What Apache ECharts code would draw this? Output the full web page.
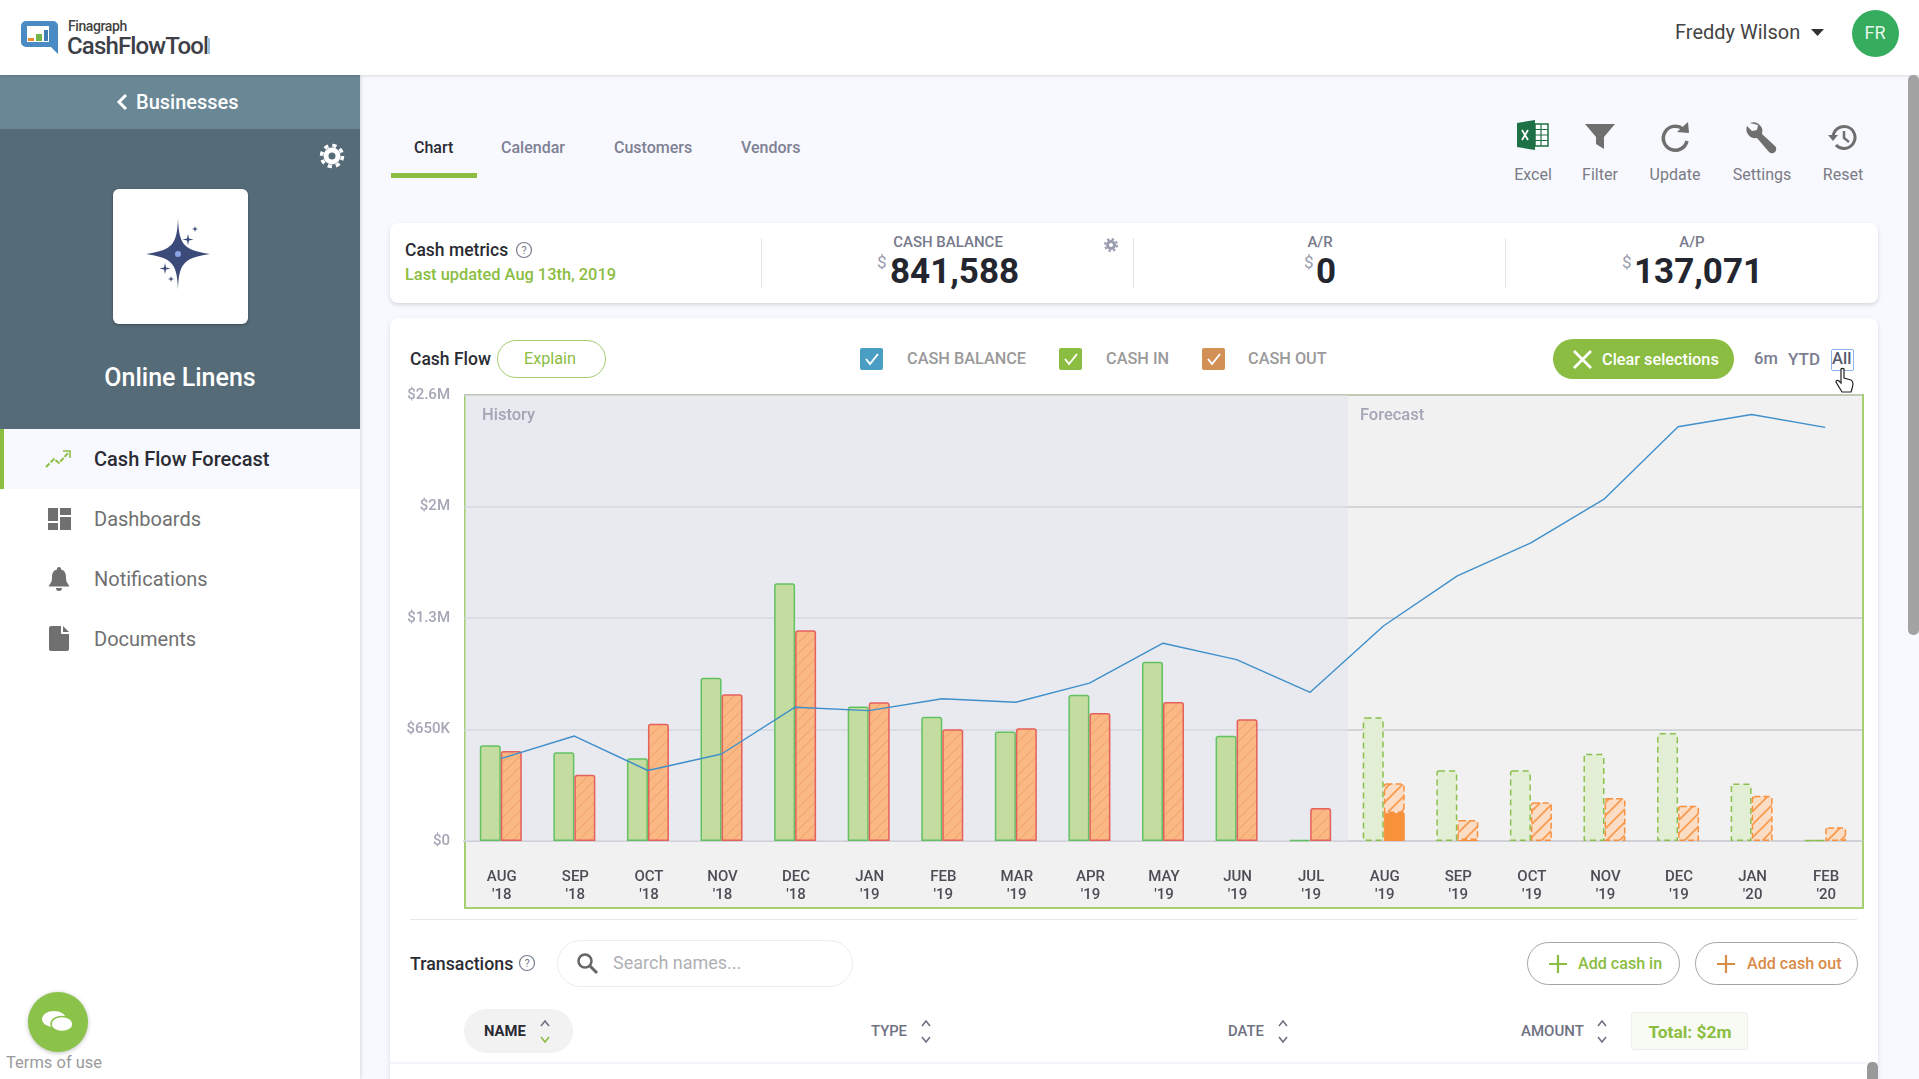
<!DOCTYPE html>
<html>
<head>
<meta charset="utf-8">
<title>Cash Flow Forecast</title>
<script src="https://cdn.jsdelivr.net/npm/echarts@6/dist/echarts.min.js"></script>
<style>
html,body{margin:0;padding:0;width:1919px;height:1079px;overflow:hidden;background:#f7f9fe;font-family:Roboto,sans-serif;}
.a{position:absolute;}
.t{position:absolute;transform:translateY(-50%);white-space:nowrap;line-height:1;}
.c{position:absolute;transform:translate(-50%,-50%);white-space:nowrap;line-height:1;}
.m{font-weight:500;}
.b{font-weight:700;}
svg{position:absolute;overflow:visible;}
.card{position:absolute;background:#fff;border-radius:8px;box-shadow:0 2px 4px rgba(60,70,90,.18);}
.pill{position:absolute;box-sizing:border-box;border-radius:24px;}
</style>
</head>
<body>
<!-- header -->
<div class="a" style="left:0;top:0;width:1919px;height:75px;background:#fff;box-shadow:0 1px 3px rgba(0,0,0,.12);z-index:3"></div>
<div style="position:absolute;z-index:4;left:0;top:0">
  <svg style="left:20px;top:20px" width="40" height="36" viewBox="0 0 40 36">
    <path d="M6 1H33a5 5 0 0 1 5 5V34L31 27H6a5 5 0 0 1-5-5V6a5 5 0 0 1 5-5z" fill="#4a8bc4"/>
    <path d="M7 6H29V22H7z" fill="#fff"/>
    <path d="M8 18h6v3H8z" fill="#e98a2e"/><path d="M16 14h6v7h-6z" fill="#6fb548"/><path d="M24 10h4v11h-4z" fill="#3f7db5"/>
  </svg>
  <div class="t m" style="left:68px;top:26px;font-size:14px;color:#444;letter-spacing:-.4px">Finagraph</div>
  <div class="t m" style="left:67px;top:46px;font-size:24px;color:#3d4047;letter-spacing:-.85px">CashFlowTool</div>
  <div class="a" style="left:207px;top:38px;width:3px;height:16px;background:#9cc2e0"></div>
  <div class="t" style="left:1675px;top:32px;font-size:20px;color:#444">Freddy Wilson</div>
  <svg style="left:1811px;top:29px" width="13" height="7"><path d="M0 0H13L6.5 7z" fill="#333"/></svg>
  <div class="a" style="left:1852px;top:10px;width:47px;height:47px;border-radius:50%;background:#35ac5e"></div>
  <div class="c" style="left:1875px;top:33px;font-size:18px;color:#e8f7ec">FR</div>
</div>

<!-- sidebar -->
<div class="a" style="left:0;top:75px;width:360px;height:1004px;background:#fff;box-shadow:1px 0 3px rgba(70,80,110,.18)"></div>
<div class="a" style="left:0;top:75px;width:360px;height:54px;background:#6a8796"></div>
<div class="a" style="left:0;top:129px;width:360px;height:300px;background:#566b78"></div>
<svg style="left:116px;top:93px" width="12" height="18"><path d="M10 2L3 9l7 7" fill="none" stroke="#fff" stroke-width="3"/></svg>
<div class="t m" style="left:136px;top:102px;font-size:20px;color:#fff">Businesses</div>
<svg style="left:332px;top:156px" width="1" height="1"><circle r="6" fill="none" stroke="#fff" stroke-width="5"/><circle r="10.5" fill="none" stroke="#fff" stroke-width="3.5" stroke-dasharray="4.2 4.05"/></svg>
<div class="a" style="left:113px;top:189px;width:135px;height:135px;background:#fff;border-radius:6px;box-shadow:0 1px 3px rgba(0,0,0,.3)"></div>
<svg style="left:178px;top:254px" width="1" height="1">
  <path d="M0-36C1-11 4-4 32 0C4 4 1 11 0 36C-1 11-4 4-32 0C-4-4-1-11 0-36z" fill="#3b4a78"/>
  <circle r="3" fill="#8ea4e8"/>
  <path d="M10-20l1 4.500 4.500 1-4.500 1-1 4.500-1-4.500-4.500-1 4.500-1z" fill="#3b4a78"/>
  <path d="M-13 9l1 4.500 4.500 1-4.500 1-1 4.500-1-4.500-4.500-1 4.500-1z" fill="#3b4a78"/>
  <path d="M17-28l.7 2.300 2.300.7-2.300.7-.7 2.300-.7-2.300-2.300-.7 2.300-.7z" fill="#3b4a78"/>
  <path d="M-7 22l.7 2.300 2.300.7-2.300.7-.7 2.300-.7-2.300-2.300-.7 2.300-.7z" fill="#3b4a78"/>
</svg>
<div class="c m" style="left:180px;top:377px;font-size:25px;color:#fff">Online Linens</div>
<div class="a" style="left:0;top:429px;width:360px;height:60px;background:#f7f9fe"></div>
<div class="a" style="left:0;top:429px;width:4px;height:60px;background:#8bbd42"></div>
<svg style="left:46px;top:450px" width="26" height="18"><path d="M0 17l8-8 5 4 9-10" fill="none" stroke="#8bbd42" stroke-width="2" stroke-dasharray="5 1.5"/><path d="M17 1h7v7" fill="none" stroke="#8bbd42" stroke-width="1.6"/></svg>
<div class="t m" style="left:94px;top:459px;font-size:20px;color:#2b2b33">Cash Flow Forecast</div>
<svg style="left:48px;top:508px" width="23" height="22"><path d="M0 0h10v13H0zM12 0h11v7H12zM12 9h11v13H12zM0 15h10v7H0z" fill="#707070"/></svg>
<div class="t" style="left:94px;top:519px;font-size:20px;color:#707070">Dashboards</div>
<svg style="left:49px;top:567px" width="20" height="24"><path d="M10 0a2 2 0 0 1 2 2.500c4 1 5 4 5 8 0 4 1 5 3 8v1H0v-1c2-3 3-4 3-8 0-4 1-7 5-8A2 2 0 0 1 10 0zM7 21h6a3 3 0 0 1-6 0z" fill="#707070"/></svg>
<div class="t" style="left:94px;top:579px;font-size:20px;color:#707070">Notifications</div>
<svg style="left:49px;top:626px" width="20" height="25"><path d="M2 0H12V7a1 1 0 0 0 1 1H20V23a2 2 0 0 1-2 2H2a2 2 0 0 1-2-2V2a2 2 0 0 1 2-2zM14 0l6 6h-6z" fill="#707070"/></svg>
<div class="t" style="left:94px;top:639px;font-size:20px;color:#707070">Documents</div>
<div class="a" style="left:28px;top:992px;width:60px;height:60px;border-radius:50%;background:#8bc34a;box-shadow:0 1px 4px rgba(0,0,0,.25)"></div>
<svg style="left:42px;top:1010px" width="32" height="26"><ellipse cx="12" cy="9" rx="12" ry="8" fill="#fff"/><ellipse cx="20" cy="14" rx="11" ry="7.500" fill="#fff" stroke="#8bc34a" stroke-width="1.500"/></svg>
<div class="t" style="left:6px;top:1063px;font-size:16.500px;color:#9a9a9a">Terms of use</div>

<!-- tabs and toolbar -->
<div class="t m" style="left:414px;top:148px;font-size:16px;color:#2b2b33">Chart</div>
<div class="t m" style="left:501px;top:148px;font-size:16px;color:#7f8094">Calendar</div>
<div class="t m" style="left:614px;top:148px;font-size:16px;color:#7f8094">Customers</div>
<div class="t m" style="left:741px;top:148px;font-size:16px;color:#7f8094">Vendors</div>
<div class="a" style="left:391px;top:173px;width:86px;height:5px;background:#8bbd42"></div>
<svg style="left:1517px;top:120px" width="31" height="30"><path d="M0 3L18 0V30L0 27z" fill="#1e7145"/><path d="M18 4H31V26H18z" fill="#fff" stroke="#1e7145" stroke-width="1.500"/><path d="M18 9.500H31M18 15H31M18 20.500H31M24 4V26" stroke="#1e7145" stroke-width="1.200"/><path d="M5 10l6 10M11 10L5 20" stroke="#fff" stroke-width="1.800"/></svg>
<svg style="left:1585px;top:124px" width="30" height="26"><path d="M0 0H30L19 13V25L11 20V13z" fill="#6f6f6f"/></svg>
<svg style="left:1662px;top:124px" width="28" height="28"><path d="M21 5A12 12 0 1 0 25 17" fill="none" stroke="#6f6f6f" stroke-width="3.500"/><path d="M15 8L27 9 26 -2z" fill="#6f6f6f"/></svg>
<svg style="left:1746px;top:122px" width="30" height="30"><path d="M4 1a9 9 0 0 1 12 11L29 24a3.500 3.500 0 0 1-6 6L11 16A9 9 0 0 1 1 4l5 5 5-1 1-5z" fill="#6f6f6f"/></svg>
<svg style="left:1828px;top:124px" width="30" height="28"><path d="M5 13A11 11 0 1 1 8 21" fill="none" stroke="#6f6f6f" stroke-width="3"/><path d="M0 11H10L5 17z" fill="#6f6f6f"/><path d="M16 7V14L21 18" fill="none" stroke="#6f6f6f" stroke-width="2.500"/></svg>
<div class="c" style="left:1533px;top:175px;font-size:16px;color:#7b7b85">Excel</div>
<div class="c" style="left:1600px;top:175px;font-size:16px;color:#7b7b85">Filter</div>
<div class="c" style="left:1675px;top:175px;font-size:16px;color:#7b7b85">Update</div>
<div class="c" style="left:1762px;top:175px;font-size:16px;color:#7b7b85">Settings</div>
<div class="c" style="left:1843px;top:175px;font-size:16px;color:#7b7b85">Reset</div>

<!-- metrics card -->
<div class="card" style="left:390px;top:223px;width:1488px;height:80px"></div>
<div class="t m" style="left:405px;top:251px;font-size:17.500px;color:#2b2b33">Cash metrics</div>
<svg style="left:524px;top:250px" width="1" height="1"><circle r="7.500" fill="none" stroke="#777a8c" stroke-width="1.200"/><text x="0" y="4" text-anchor="middle" font-size="11" fill="#777a8c">?</text></svg>
<div class="t m" style="left:405px;top:275px;font-size:16.400px;color:#8bbd42">Last updated Aug 13th, 2019</div>
<div class="a" style="left:761px;top:238px;width:1px;height:50px;background:#e4e5ea"></div>
<div class="a" style="left:1133px;top:238px;width:1px;height:50px;background:#e4e5ea"></div>
<div class="a" style="left:1505px;top:238px;width:1px;height:50px;background:#e4e5ea"></div>
<div class="c m" style="left:948px;top:242px;font-size:15px;color:#777a8c">CASH BALANCE</div>
<div class="t" style="left:877px;top:262px;font-size:17px;color:#999cae">$</div>
<div class="t b" style="left:890px;top:271px;font-size:35px;color:#23262f">841,588</div>
<svg style="left:1111px;top:245px" width="1" height="1"><circle r="3.500" fill="none" stroke="#9a9cb0" stroke-width="3"/><circle r="6" fill="none" stroke="#9a9cb0" stroke-width="2" stroke-dasharray="2.400 2.300"/></svg>
<div class="c m" style="left:1320px;top:242px;font-size:15px;color:#777a8c">A/R</div>
<div class="t" style="left:1304px;top:262px;font-size:17px;color:#999cae">$</div>
<div class="t b" style="left:1316px;top:271px;font-size:35px;color:#23262f">0</div>
<div class="c m" style="left:1692px;top:242px;font-size:15px;color:#777a8c">A/P</div>
<div class="t" style="left:1622px;top:262px;font-size:17px;color:#999cae">$</div>
<div class="t b" style="left:1634px;top:271px;font-size:35px;color:#23262f">137,071</div>

<!-- chart card -->
<div class="card" style="left:390px;top:318px;width:1488px;height:770px"></div>
<div class="t m" style="left:410px;top:360px;font-size:17.500px;color:#2b2b33">Cash Flow</div>
<div class="pill" style="left:497px;top:340px;width:109px;height:38px;border:1.500px solid #a4cc6f"></div>
<div class="c" style="left:550px;top:359px;font-size:16.200px;color:#8bbd42">Explain</div>
<div class="a" style="left:860px;top:348px;width:23px;height:22px;background:#4a9dc3;border-radius:2px"></div>
<svg style="left:860px;top:348px" width="23" height="22"><path d="M6 11l4 5 8-10" fill="none" stroke="#fff" stroke-width="2"/></svg>
<div class="t m" style="left:907px;top:359px;font-size:16.300px;color:#9a9a9a">CASH BALANCE</div>
<div class="a" style="left:1059px;top:348px;width:23px;height:22px;background:#8bbd42;border-radius:2px"></div>
<svg style="left:1059px;top:348px" width="23" height="22"><path d="M6 11l4 5 8-10" fill="none" stroke="#fff" stroke-width="2"/></svg>
<div class="t m" style="left:1106px;top:359px;font-size:16.300px;color:#9a9a9a">CASH IN</div>
<div class="a" style="left:1202px;top:348px;width:23px;height:22px;background:#d29055;border-radius:2px"></div>
<svg style="left:1202px;top:348px" width="23" height="22"><path d="M6 11l4 5 8-10" fill="none" stroke="#fff" stroke-width="2"/></svg>
<div class="t m" style="left:1248px;top:359px;font-size:16.300px;color:#9a9a9a">CASH OUT</div>
<div class="pill" style="left:1553px;top:339px;width:181px;height:40px;background:#8bbd42"></div>
<svg style="left:1573px;top:350px" width="19" height="19"><path d="M1 1L18 18M18 1L1 18" stroke="#fff" stroke-width="2.800"/></svg>
<div class="t m" style="left:1602px;top:359.500px;font-size:16.300px;color:#fff">Clear selections</div>
<div class="t m" style="left:1754px;top:359px;font-size:16.500px;color:#7b7d90">6m</div>
<div class="t m" style="left:1788px;top:359px;font-size:17px;color:#7b7d90">YTD</div>
<div class="a" style="left:1831px;top:349px;width:21px;height:20px;border:1.500px solid #8fb2f0;border-radius:2px"></div>
<div class="t m" style="left:1832px;top:359px;font-size:16.500px;color:#555a70">All</div>

<div id="main" class="a" style="left:390px;top:380px;width:1490px;height:535px"></div>

<svg style="left:1835px;top:367px;z-index:5" width="20" height="26"><path d="M6 2a2 2 0 0 1 3 0V11l7 2c2 1 2 2 2 4l-1 5-1 3H7L1 15c0-2 2-2 3-1l2 2z" fill="#fff" stroke="#222" stroke-width="1.200"/></svg>

<!-- transactions -->
<div class="a" style="left:410px;top:919px;width:1447px;height:1px;background:#e5e6ea"></div>
<div class="t m" style="left:410px;top:964px;font-size:17.800px;color:#2b2b33">Transactions</div>
<svg style="left:527px;top:963px" width="1" height="1"><circle r="7.500" fill="none" stroke="#777a8c" stroke-width="1.200"/><text x="0" y="4" text-anchor="middle" font-size="11" fill="#777a8c">?</text></svg>
<div class="pill" style="left:557px;top:940px;width:296px;height:47px;border:1.500px solid #ececf0"></div>
<svg style="left:577px;top:953px" width="22" height="22"><circle cx="8" cy="8" r="6.500" fill="none" stroke="#666" stroke-width="2.500"/><path d="M13 13l7 7" stroke="#666" stroke-width="3"/></svg>
<div class="t" style="left:613px;top:963px;font-size:18px;color:#b0b0b5">Search names...</div>
<div class="pill" style="left:1527px;top:942px;width:153px;height:43px;border:1.200px solid #a5a5a5"></div>
<svg style="left:1549px;top:955px" width="18" height="18"><path d="M9 0V18M0 9H18" stroke="#8bbd42" stroke-width="2.200"/></svg>
<div class="t m" style="left:1578px;top:964px;font-size:16.100px;color:#8bbd42">Add cash in</div>
<div class="pill" style="left:1695px;top:942px;width:163px;height:43px;border:1.200px solid #a5a5a5"></div>
<svg style="left:1717px;top:955px" width="18" height="18"><path d="M9 0V18M0 9H18" stroke="#d98b48" stroke-width="2.200"/></svg>
<div class="t m" style="left:1747px;top:964px;font-size:16.100px;color:#d98b48">Add cash out</div>

<div class="pill" style="left:464px;top:1009px;width:109px;height:44px;background:#f2f2f3"></div>
<div class="t b" style="left:484px;top:1031px;font-size:14.800px;color:#2b2b33">NAME</div>
<div class="t m" style="left:871px;top:1031px;font-size:14.800px;color:#6f7183">TYPE</div>
<div class="t m" style="left:1228px;top:1031px;font-size:14.800px;color:#6f7183">DATE</div>
<div class="t m" style="left:1521px;top:1031px;font-size:15px;color:#6f7183">AMOUNT</div>
<svg style="left:545px;top:1020px" width="1" height="1"><path d="M-4 6l4-5 4 5" fill="none" stroke="#6f7183" stroke-width="1.600"/><path d="M-4 17l4 5 4-5" fill="none" stroke="#8bbd42" stroke-width="1.600"/></svg>
<svg style="left:926px;top:1020px" width="1" height="1"><path d="M-4 6l4-5 4 5M-4 17l4 5 4-5" fill="none" stroke="#6f7183" stroke-width="1.600"/></svg>
<svg style="left:1283px;top:1020px" width="1" height="1"><path d="M-4 6l4-5 4 5M-4 17l4 5 4-5" fill="none" stroke="#6f7183" stroke-width="1.600"/></svg>
<svg style="left:1602px;top:1020px" width="1" height="1"><path d="M-4 6l4-5 4 5M-4 17l4 5 4-5" fill="none" stroke="#6f7183" stroke-width="1.600"/></svg>
<div class="a" style="left:1631px;top:1012px;width:117px;height:38px;background:#f8fbf3;border:1px solid #eeeeee;border-radius:3px;box-sizing:border-box"></div>
<div class="c b" style="left:1690px;top:1032.500px;font-size:17.400px;color:#8bbd42">Total: $2m</div>
<div class="a" style="left:390px;top:1062px;width:1488px;height:2px;background:#f3f5fb"></div>
<div class="a" style="left:1867px;top:1062px;width:11px;height:17px;background:#999;border-radius:5px 5px 0 0"></div>

<!-- page scrollbar -->
<div class="a" style="left:1908px;top:75px;width:11px;height:560px;background:#a3a3a3;border-radius:5px;z-index:4"></div>

<script>
var months = ['AUG','SEP','OCT','NOV','DEC','JAN','FEB','MAR','APR','MAY','JUN','JUL','AUG','SEP','OCT','NOV','DEC','JAN','FEB'];
var years = ['18','18','18','18','18','19','19','19','19','19','19','19','19','19','19','19','19','20','20'];
var yTicks = ['$0','$650K','$1.3M','$2M','$2.6M'];

var cashIn = [558000,518000,483000,952000,1503000,784000,724000,639000,853000,1045000,614000,7000,722000,413000,413000,509000,630000,335000,7000];
// the part of forecast cash out that is already scheduled (solid block at the bottom)
var cashOutScheduled = [null,null,null,null,null,null,null,null,null,null,null,null,163000,6000,null,null,null,null,null];
// cash out on top of that
var cashOut = [525000,386000,684000,856000,1229000,809000,652000,657000,746000,811000,710000,192000,174000,117000,226000,250000,205000,264000,80000];
var cashBalance = [480000,612000,411000,507000,780000,760000,829000,809000,920000,1153000,1057000,867000,1255000,1546000,1738000,1995000,2415000,2486000,2411000];

var historyCount = 12; // months before this index are history, the rest forecast

var myChart = echarts.init(document.getElementById('main'));

// layout inside the chart div
var frameLeft = 75, gridLeft = 74, gridTop = 15, gridWidth = 1398, gridHeight = 446, frameHeight = 513;
var band = gridWidth / months.length;

function hatch(bg, line, size, width) {
	var c = document.createElement('canvas');
	c.width = c.height = size;
	var ctx = c.getContext('2d');
	ctx.fillStyle = bg;
	ctx.fillRect(0, 0, size, size);
	ctx.strokeStyle = line;
	ctx.lineWidth = width;
	ctx.beginPath();
	ctx.moveTo(-2, size + 2); ctx.lineTo(size + 2, -2);
	ctx.moveTo(-2, 2); ctx.lineTo(2, -2);
	ctx.moveTo(size - 2, size + 2); ctx.lineTo(size + 2, size - 2);
	ctx.stroke();
	return c;
}
var hatchHistory = { image: hatch('#fab984', '#f4a76e', 11, 1.2), repeat: 'repeat' };
var hatchForecast = { image: hatch('#fbdcc4', '#f99a4c', 13, 1.7), repeat: 'repeat' };

var inData = cashIn.map(function (v, i) {
	if (i < historyCount) {
		return { value: v, itemStyle: { color: '#c5dca0', borderColor: '#62c262', borderWidth: 1.5, borderRadius: [2, 2, 0, 0] } };
	}
	return { value: v, itemStyle: { color: '#e3efd4', borderColor: '#8cc04c', borderWidth: 1.5, borderType: [6, 4], borderRadius: [2, 2, 0, 0] } };
});
var outData = cashOut.map(function (v, i) {
	if (i < historyCount) {
		return { value: v, itemStyle: { color: hatchHistory, borderColor: '#e4605c', borderWidth: 1.5, borderRadius: [2, 2, 0, 0] } };
	}
	return { value: v, itemStyle: { color: hatchForecast, borderColor: '#f8913f', borderWidth: 1.5, borderType: [6, 3], borderRadius: [2, 2, 0, 0] } };
});

var option = {
	animation: false,
	textStyle: { fontFamily: 'Roboto' },
	graphic: [
		{ type: 'rect', z: -1, shape: { x: frameLeft, y: gridTop, width: gridWidth, height: frameHeight },
			style: { fill: '#f1f1f2', stroke: '#a6cf72', lineWidth: 2 } },
		{ type: 'text', z: 5, x: frameLeft + 17, y: gridTop + 12,
			style: { text: 'History', fill: '#a3a5b6', font: '500 16.5px Roboto' } },
		{ type: 'text', z: 5, x: frameLeft + band * historyCount + 12, y: gridTop + 12,
			style: { text: 'Forecast', fill: '#a3a5b6', font: '500 16.5px Roboto' } }
	],
	grid: { left: gridLeft, top: gridTop, width: gridWidth, height: gridHeight },
	xAxis: {
		type: 'category',
		data: months.map(function (m, i) { return m + "\n'" + years[i]; }),
		axisTick: { show: false },
		axisLine: { lineStyle: { color: '#d0d1d6', width: 2 } },
		axisLabel: { color: '#4d4d55', fontWeight: 500, fontSize: 15, lineHeight: 18, margin: 27, interval: 0, padding: [0, 0, 0, 2] }
	},
	yAxis: {
		type: 'value',
		min: 0,
		max: 2600000,
		interval: 650000,
		axisLine: { show: false },
		axisTick: { show: false },
		splitLine: { lineStyle: { color: '#c9cacf', width: 1.5 } },
		axisLabel: {
			color: '#a5a7b6',
			fontWeight: 500,
			fontSize: 15,
			margin: 14,
			padding: [2, 0, 0, 0],
			formatter: function (v) { return yTicks[Math.round(v / 650000)]; }
		}
	},
	series: [
		{
			name: 'Cash in',
			type: 'bar',
			stack: 'in',
			barWidth: 21,
			barGap: 0,
			data: inData,
			markArea: {
				silent: true,
				itemStyle: { color: 'rgba(225,228,238,0.55)' },
				data: [[
					{ x: frameLeft, y: gridTop },
					{ x: frameLeft + band * historyCount, y: gridTop + gridHeight }
				]]
			}
		},
		{
			name: 'Cash out scheduled',
			type: 'bar',
			stack: 'out',
			barWidth: 21,
			barGap: 0,
			itemStyle: { color: '#f7913a', borderColor: '#f8913f', borderWidth: 1 },
			data: cashOutScheduled
		},
		{
			name: 'Cash out',
			type: 'bar',
			stack: 'out',
			barWidth: 21,
			barGap: 0,
			data: outData
		},
		{
			name: 'Cash balance',
			type: 'line',
			showSymbol: false,
			symbol: 'none',
			z: 5,
			lineStyle: { color: '#3f8fca', width: 1.4 },
			data: cashBalance
		}
	]
};

myChart.setOption(option);
</script>
</body>
</html>
